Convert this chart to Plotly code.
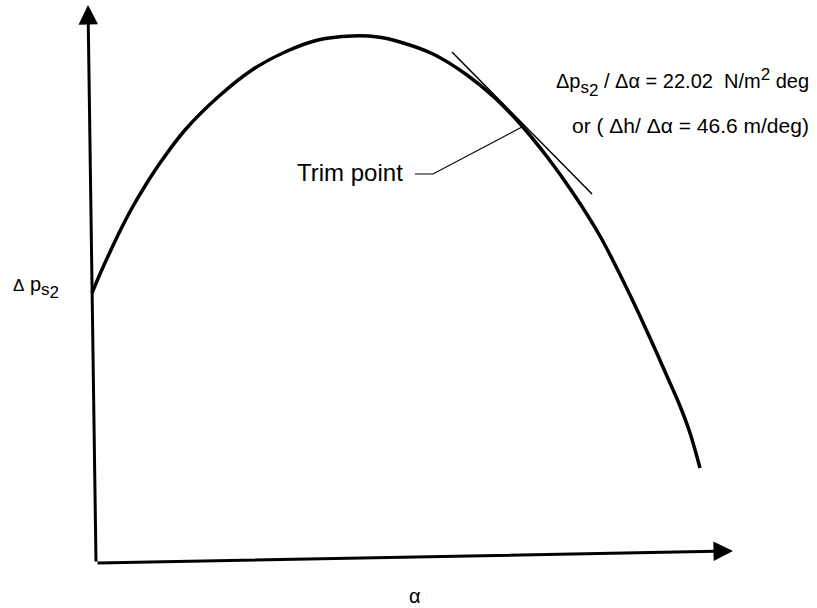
import plotly.graph_objects as go

# curve (arbitrary units, origin at the axes corner)
alpha = [-0.4, 0.4, 1.4, 2.4, 3.6, 4.9, 6.4, 8.9, 12.2, 15.6, 18.9, 22.2,
         25.6, 28.2, 30.4, 33.7, 37.1, 39.9, 42.6, 45.2, 47.7, 50.4, 53.4,
         55.4, 57.4, 58.4, 59.4, 60.4]
dps = [27.0, 28.9, 31.1, 33.2, 35.5, 37.7, 40.0, 43.3, 46.6, 49.3, 51.1, 52.3,
       52.7, 52.6, 52.1, 50.9, 48.8, 46.5, 43.7, 40.5, 37.0, 32.7, 26.8,
       22.5, 18.0, 15.7, 13.0, 9.5]

# tangent at the trim point
tan_alpha = [35.6, 49.6]
tan_dps = [51.1, 36.9]

# trim point and its leader line
trim_alpha = 42.6
trim_dps = 43.6
leader_alpha = [31.9, 33.7, trim_alpha]
leader_dps = [38.9, 38.9, trim_dps]

# axis ends (the scan is slightly skewed)
x_axis_end = (63.7, 1.2)
y_axis_end = (-0.8, 55.8)

FONT = "Liberation Sans, Arial, sans-serif"

fig = go.Figure()

fig.add_trace(go.Scatter(x=alpha, y=dps, mode='lines', line_shape='spline',
                         line=dict(color='black', width=3.5), hoverinfo='skip'))
fig.add_trace(go.Scatter(x=tan_alpha, y=tan_dps, mode='lines',
                         line=dict(color='black', width=1.5), hoverinfo='skip'))
fig.add_trace(go.Scatter(x=leader_alpha, y=leader_dps, mode='lines',
                         line=dict(color='black', width=1.2), hoverinfo='skip'))

# axes drawn as arrows
for end in [x_axis_end, y_axis_end]:
    fig.add_annotation(x=end[0], y=end[1], ax=0, ay=0, axref='x', ayref='y',
                       xref='x', yref='y', text='', showarrow=True,
                       arrowhead=2, arrowsize=1.3, arrowwidth=3,
                       arrowcolor='black', standoff=0)

sub_s2 = ('<sub><span style="font-size:17px">s</span>'
          '<sub><span style="font-size:17px">2</span></sub></sub>')

# labels
fig.add_annotation(x=-6.0, y=27.6,
                   text='<span style="font-size:17px">\u0394</span> p' + sub_s2,
                   showarrow=False, font=dict(family=FONT, size=20, color='black'))
fig.add_annotation(x=31.9, y=-3.3, text='\u03b1', showarrow=False,
                   font=dict(family=FONT, size=20, color='black'))
fig.add_annotation(x=25.4, y=39.1, text='Trim point', showarrow=False,
                   font=dict(family=FONT, size=24, color='black'))
fig.add_annotation(x=58.6, y=48.1,
                   text='\u0394p' + sub_s2 + ' / \u0394\u03b1 = 22.02  N/m'
                        '<sup><span style="font-size:17px">2</span></sup> deg',
                   showarrow=False, font=dict(family=FONT, size=20, color='black'))
fig.add_annotation(x=59.4, y=43.8,
                   text='or ( \u0394h/ \u0394\u03b1 = 46.6 m/deg)',
                   showarrow=False, font=dict(family=FONT, size=21, color='black'))

fig.update_layout(
    width=817, height=608,
    margin=dict(l=0, r=0, t=0, b=0),
    paper_bgcolor='white', plot_bgcolor='white',
    showlegend=False, hovermode=False,
    xaxis=dict(range=[-9.6, 72.1], visible=False, fixedrange=True),
    yaxis=dict(range=[-4.5, 56.3], visible=False, fixedrange=True),
)

# page has a default body margin; drop it so the figure sits at the corner
fig.write_html("out.html", post_script="document.body.style.margin='0';",
               config={'displayModeBar': False})
